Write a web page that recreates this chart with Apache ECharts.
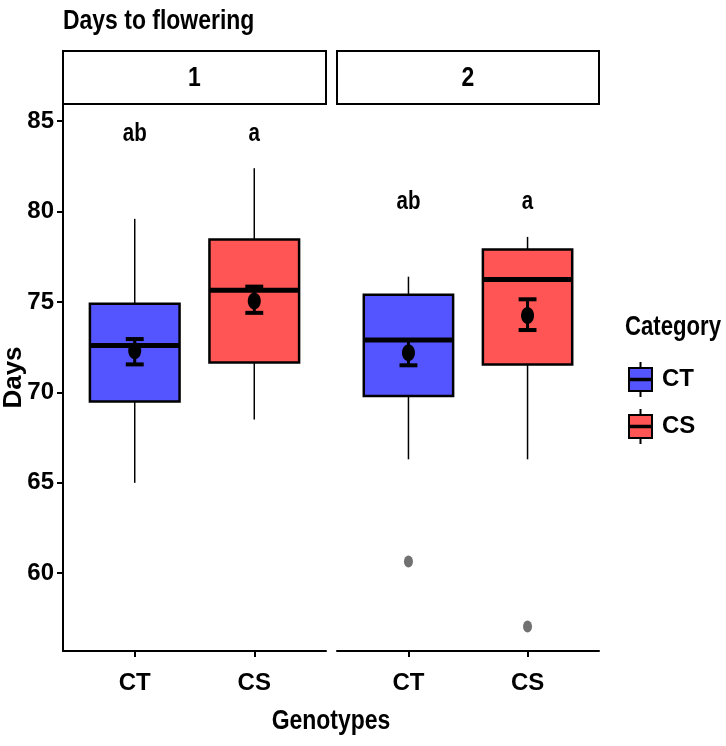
<!DOCTYPE html>
<html>
<head>
<meta charset="utf-8">
<title>Days to flowering</title>
<script src="https://cdn.jsdelivr.net/npm/echarts@6/dist/echarts.min.js"></script>
<style>
	html, body { margin: 0; padding: 0; background: #fff; }
	#main { width: 726px; height: 746px; }
</style>
</head>
<body>
<div id="main"></div>
<script>
var facets = ['1', '2'];
var genotypes = ['CT', 'CS'];
// [min, Q1, median, Q3, max] per facet
var ctBox = [[65.0, 69.5, 72.6, 74.9, 79.6], [66.3, 69.8, 72.9, 75.4, 76.4]];
var csBox = [[68.5, 71.65, 75.65, 78.45, 82.4], [66.3, 71.55, 76.25, 77.9, 78.6]];
// [mean, lower, upper] per facet
var ctMean = [[72.3, 71.55, 72.95], [72.2, 71.5, 72.9]];
var csMean = [[75.05, 74.4, 75.85], [74.25, 73.45, 75.15]];
var ctOutliers = [[], [60.65]];
var csOutliers = [[], [57.05]];
var letters = [['ab', 'a'], ['ab', 'a']];
var letterY = [84.3, 80.5];
var yTicks = [60, 65, 70, 75, 80, 85];

var FONT = "'Liberation Sans', Arial, sans-serif";
var NARROW = 0.82; // reference text is condensed
var colors = {CT: '#5555ff', CS: '#ff5555'};

var myChart = echarts.init(document.getElementById('main'));

function renderBox(params, api) {
	var x = api.value(0);
	var w = api.size([0.75, 0])[0];
	var pMin = api.coord([x, api.value(1)]);
	var pQ1 = api.coord([x, api.value(2)]);
	var pMed = api.coord([x, api.value(3)]);
	var pQ3 = api.coord([x, api.value(4)]);
	var pMax = api.coord([x, api.value(5)]);
	var cx = pMed[0];
	return {
		type: 'group',
		children: [
			{type: 'line', shape: {x1: cx, y1: pMax[1], x2: cx, y2: pQ3[1]}, style: {stroke: '#000', lineWidth: 1.5}},
			{type: 'line', shape: {x1: cx, y1: pQ1[1], x2: cx, y2: pMin[1]}, style: {stroke: '#000', lineWidth: 1.5}},
			{type: 'rect', shape: {x: cx - w / 2, y: pQ3[1], width: w, height: pQ1[1] - pQ3[1]},
				style: {fill: api.visual('color'), stroke: '#000', lineWidth: 2.5}},
			{type: 'line', shape: {x1: cx - w / 2, y1: pMed[1], x2: cx + w / 2, y2: pMed[1]}, style: {stroke: '#000', lineWidth: 5}}
		]
	};
}

function renderMean(params, api) {
	var x = api.value(0);
	var cw = api.size([0.15, 0])[0];
	var pM = api.coord([x, api.value(1)]);
	var pLo = api.coord([x, api.value(2)]);
	var pHi = api.coord([x, api.value(3)]);
	var cx = pM[0];
	return {
		type: 'group',
		children: [
			{type: 'line', shape: {x1: cx, y1: pLo[1], x2: cx, y2: pHi[1]}, style: {stroke: '#000', lineWidth: 3}},
			{type: 'line', shape: {x1: cx - cw / 2, y1: pLo[1], x2: cx + cw / 2, y2: pLo[1]}, style: {stroke: '#000', lineWidth: 4}},
			{type: 'line', shape: {x1: cx - cw / 2, y1: pHi[1], x2: cx + cw / 2, y2: pHi[1]}, style: {stroke: '#000', lineWidth: 4}},
			{type: 'ellipse', shape: {cx: cx, cy: pM[1], rx: 6.5, ry: 8.5}, style: {fill: '#000'}}
		]
	};
}

function makeLetterRenderer(f) {
	return function (params, api) {
		var p = api.coord([api.value(0), api.value(1)]);
		return {
			type: 'text', x: p[0], y: p[1], scaleX: NARROW,
			style: {
				text: letters[f][params.dataIndex],
				textAlign: 'center', textVerticalAlign: 'middle',
				font: 'bold 25px ' + FONT, fill: '#000'
			}
		};
	};
}

function label(text, x, y, size, align) {
	return {
		type: 'text', x: x, y: y, scaleX: NARROW,
		style: {text: text, textAlign: align || 'center', textVerticalAlign: 'middle', font: 'bold ' + size + 'px ' + FONT, fill: '#000'}
	};
}

var grids = [], xAxes = [], yAxes = [], series = [];
facets.forEach(function (facet, f) {
	grids.push({left: f === 0 ? 63 : 337, top: 104, width: f === 0 ? 263 : 262, height: 547,
		containLabel: false, outerBoundsMode: 'none'});
	xAxes.push({
		type: 'value', gridIndex: f, min: 0.4, max: 2.6,
		splitLine: {show: false},
		axisLine: {onZero: false, lineStyle: {color: '#000', width: 2}},
		axisTick: {customValues: [1, 2], length: 6, lineStyle: {color: '#000', width: 2}},
		axisLabel: {
			customValues: [1, 2], margin: 20,
			formatter: function (v) { return genotypes[Math.round(v) - 1]; },
			color: '#000', fontFamily: FONT, fontWeight: 'bold', fontSize: 24
		}
	});
	if (f === 0) {
		yAxes.push({
			type: 'value', gridIndex: f, min: 55.7, max: 85.95,
			name: 'Days', nameLocation: 'middle', nameGap: 36, nameMoveOverlap: false,
			nameTextStyle: {color: '#000', fontFamily: FONT, fontWeight: 'bold', fontSize: 26},
			splitLine: {show: false},
			axisLine: {show: true, onZero: false, lineStyle: {color: '#000', width: 2}},
			axisTick: {customValues: yTicks, length: 6, lineStyle: {color: '#000', width: 2}},
			axisLabel: {customValues: yTicks, margin: 9, color: '#000', fontFamily: FONT, fontWeight: 'bold', fontSize: 24}
		});
	} else {
		yAxes.push({
			type: 'value', gridIndex: f, min: 55.7, max: 85.95,
			axisLine: {show: false}, axisTick: {show: false}, axisLabel: {show: false}, splitLine: {show: false}
		});
	}
	series.push({
		name: 'CT', type: 'custom', xAxisIndex: f, yAxisIndex: f,
		itemStyle: {color: colors.CT}, renderItem: renderBox,
		encode: {x: 0, y: [1, 2, 3, 4, 5]},
		data: [[1].concat(ctBox[f])]
	});
	series.push({
		name: 'CS', type: 'custom', xAxisIndex: f, yAxisIndex: f,
		itemStyle: {color: colors.CS}, renderItem: renderBox,
		encode: {x: 0, y: [1, 2, 3, 4, 5]},
		data: [[2].concat(csBox[f])]
	});
	series.push({
		name: 'mean', type: 'custom', xAxisIndex: f, yAxisIndex: f, z: 3,
		renderItem: renderMean, encode: {x: 0, y: [1, 2, 3]},
		data: [[1].concat(ctMean[f]), [2].concat(csMean[f])]
	});
	series.push({
		name: 'outliers', type: 'scatter', xAxisIndex: f, yAxisIndex: f,
		symbol: 'circle', symbolSize: [9, 12], itemStyle: {color: '#4d4d4d'},
		data: ctOutliers[f].map(function (v) { return [1, v]; })
			.concat(csOutliers[f].map(function (v) { return [2, v]; }))
	});
	series.push({
		name: 'letters', type: 'custom', xAxisIndex: f, yAxisIndex: f,
		renderItem: makeLetterRenderer(f), encode: {x: 0, y: 1},
		data: [[1, letterY[f]], [2, letterY[f]]]
	});
});

var option = {
	animation: false,
	backgroundColor: '#fff',
	legend: {
		data: ['CT', 'CS'], orient: 'vertical', left: 628, top: 361, padding: 0,
		itemWidth: 23, itemHeight: 35, itemGap: 10, selectedMode: false,
		icon: 'path://M0,6L23,6L23,29L0,29Z M0,16.7L23,16.7L23,18.3L0,18.3Z M11.5,0L11.5,6 M11.5,29L11.5,35',
		itemStyle: {borderColor: '#000', borderWidth: 2},
		textStyle: {color: '#000', fontFamily: FONT, fontWeight: 'bold', fontSize: 24, padding: [0, 0, 0, 5]}
	},
	grid: grids,
	xAxis: xAxes,
	yAxis: yAxes,
	series: series,
	graphic: [
		label('Days to flowering', 63, 21, 28, 'left'),
		{type: 'rect', shape: {x: 63, y: 51, width: 263, height: 53}, style: {fill: '#fff', stroke: '#000', lineWidth: 2}},
		{type: 'rect', shape: {x: 337, y: 51, width: 262, height: 53}, style: {fill: '#fff', stroke: '#000', lineWidth: 2}},
		label(facets[0], 194.5, 78, 28),
		label(facets[1], 468, 78, 28),
		label('Genotypes', 331, 721, 28),
		label('Category', 625, 328, 27, 'left')
	]
};
myChart.setOption(option);
</script>
</body>
</html>
